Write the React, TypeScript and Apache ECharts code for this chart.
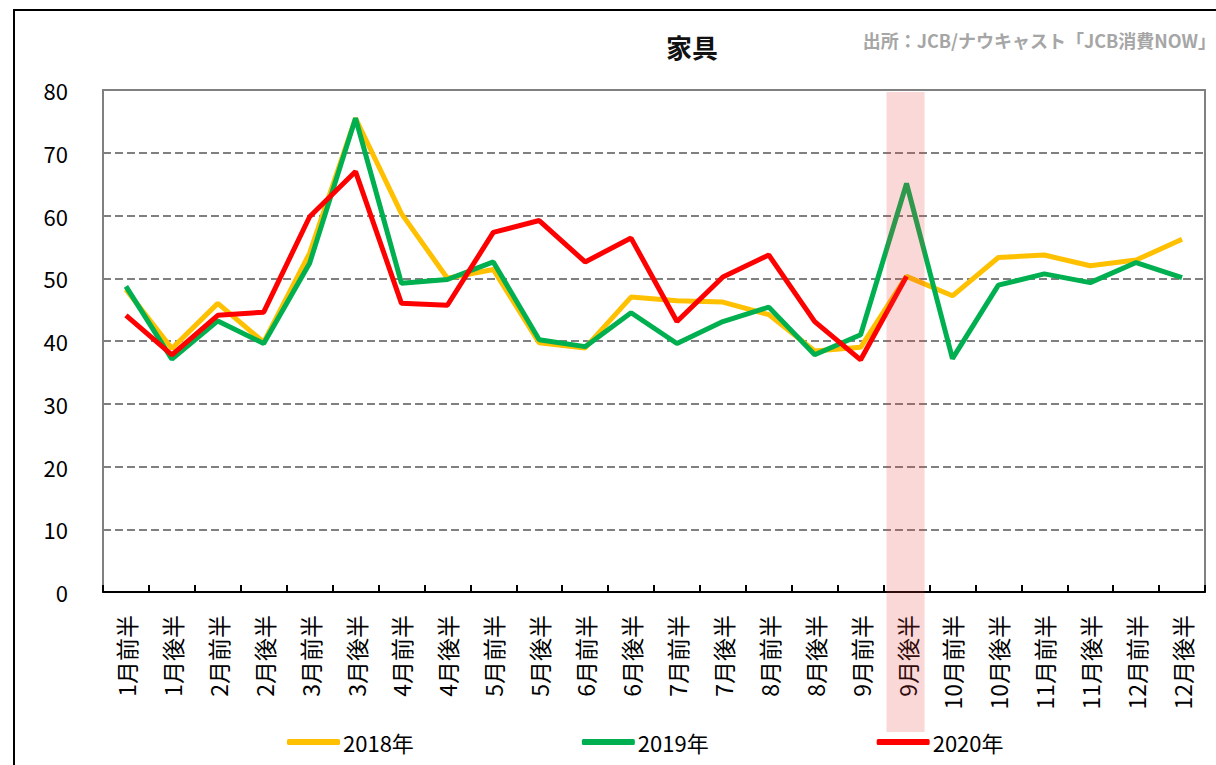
import React, { useEffect, useRef } from "react";
import * as echarts from "echarts";

const categories = [
  "1月前半", "1月後半", "2月前半", "2月後半", "3月前半", "3月後半",
  "4月前半", "4月後半", "5月前半", "5月後半", "6月前半", "6月後半",
  "7月前半", "7月後半", "8月前半", "8月後半", "9月前半", "9月後半",
  "10月前半", "10月後半", "11月前半", "11月後半", "12月前半", "12月後半",
];
const s2018 = [48.2, 38.8, 46.0, 39.8, 54.0, 75.5, 60.3, 50.0, 51.4, 39.7, 38.9, 47.0, 46.4, 46.2, 44.2, 38.4, 39.0, 50.3, 47.2, 53.3, 53.7, 52.0, 52.9, 56.2];
const s2019 = [48.7, 37.1, 43.2, 39.6, 52.4, 75.5, 49.2, 49.8, 52.6, 40.2, 39.1, 44.5, 39.6, 43.1, 45.4, 37.8, 41.0, 65.1, 37.2, 48.9, 50.7, 49.3, 52.5, 50.1];
const s2020 = [44.1, 37.8, 44.1, 44.6, 59.8, 67.0, 46.0, 45.7, 57.3, 59.2, 52.6, 56.4, 43.1, 50.2, 53.7, 43.1, 37.0, 50.3, null, null, null, null, null, null];
const seriesNames = ["2018年", "2019年", "2020年"];
const seriesColors = ["#FFC000", "#00B050", "#FF0000"];
const highlightCategory = "9月後半";
const title = "家具";
const source = "出所：JCB/ナウキャスト「JCB消費NOW」";

const FONT = '"Noto Sans CJK JP", "Noto Sans", sans-serif';

export default function App() {
  const ref = useRef<HTMLDivElement>(null);
  useEffect(() => {
    if (!ref.current) return;
    const chart = echarts.init(ref.current, null, { renderer: "svg" });
    const data = [s2018, s2019, s2020];
    const option: any = {
      animation: false,
      backgroundColor: "#ffffff",
      textStyle: { fontFamily: FONT },
      title: {
        text: title,
        left: 661,
        top: 28,
        textStyle: { fontSize: 26, fontWeight: "bold", color: "#111", fontFamily: FONT },
      },
      legend: {
        data: seriesNames,
        left: 282,
        top: 726,
        itemWidth: 53,
        itemHeight: 6,
        itemGap: 168,
        icon: "roundRect",
        textStyle: { fontSize: 22, color: "#000", fontFamily: FONT, padding: [0, 0, 0, -2] },
      },
      grid: {
        left: 103,
        right: 11,
        top: 90,
        bottom: 173,
        show: true,
        borderColor: "#808080",
        borderWidth: 2,
        backgroundColor: "transparent",
      },
      xAxis: {
        type: "category",
        data: categories,
        boundaryGap: true,
        axisLine: { show: true, lineStyle: { color: "#000", width: 2 } },
        axisTick: { show: true, inside: true, length: 7, lineStyle: { color: "#000", width: 2 } },
        axisLabel: {
          rotate: 90,
          interval: 0,
          margin: 23,
          fontSize: 23,
          color: "#000",
          fontFamily: FONT,
        },
        splitLine: { show: false },
      },
      yAxis: {
        type: "value",
        min: 0,
        max: 80,
        interval: 10,
        axisLine: { show: true, lineStyle: { color: "#808080", width: 2 } },
        axisTick: { show: false },
        axisLabel: { fontSize: 22, color: "#000", margin: 35, fontFamily: FONT },
        splitLine: { show: true, lineStyle: { color: "#808080", width: 2, type: [8, 4] } },
      },
      graphic: {
        elements: [
          {
            id: "frame",
            type: "rect",
            shape: { x: 14, y: 10, width: 1400, height: 1000 },
            style: { fill: "none", stroke: "#000", lineWidth: 2 },
            z: 1,
          },
          {
            id: "source",
            type: "text",
            x: 1216,
            y: 40,
            style: {
              text: source,
              fill: "#A6A6A6",
              fontSize: 18,
              fontWeight: "bold",
              fontFamily: FONT,
              textAlign: "right",
              textVerticalAlign: "middle",
            },
            z: 10,
          },
        ],
      },
      series: seriesNames.map((name, i) => ({
        name,
        type: "line",
        data: data[i],
        symbol: "none",
        showSymbol: false,
        connectNulls: false,
        color: seriesColors[i],
        lineStyle: { color: seriesColors[i], width: 5 },
        itemStyle: { color: seriesColors[i] },
        z: 2 + i,
      })),
    };
    chart.setOption(option);

    const idx = categories.indexOf(highlightCategory);
    const cx = chart.convertToPixel({ xAxisIndex: 0 }, categories[idx]) as number;
    const cxNext = chart.convertToPixel({ xAxisIndex: 0 }, categories[idx + 1]) as number;
    const bandW = (cxNext - cx) * 0.83;
    const topY = chart.convertToPixel({ yAxisIndex: 0 }, 80) as number;
    chart.setOption({
      graphic: {
        elements: [
          {
            id: "band",
            type: "rect",
            shape: { x: cx - bandW / 2 - 1, y: topY + 2, width: bandW, height: 732 - (topY + 2) },
            style: { fill: "rgba(230, 60, 60, 0.2)" },
            z: 100,
            silent: true,
          },
        ],
      },
    });

    return () => chart.dispose();
  }, []);
  return (
    <div
      ref={ref}
      style={{ position: "absolute", left: 0, top: 0, width: 1216, height: 765 }}
    />
  );
}
